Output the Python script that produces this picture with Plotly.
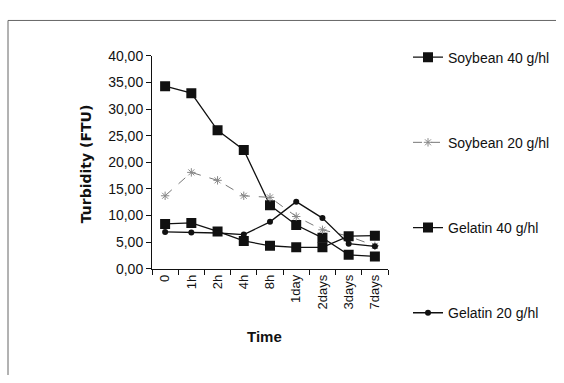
import plotly.graph_objects as go

categories = ["0", "1h", "2h", "4h", "8h", "1day", "2days", "3days", "7days"]
soy40 = [34.3, 33.0, 26.0, 22.3, 11.9, 8.2, 5.8, 2.6, 2.3]
soy20 = [13.7, 18.1, 16.6, 13.7, 13.4, 9.8, 7.3, 6.1, 4.3]
gel40 = [8.4, 8.6, 7.0, 5.2, 4.3, 4.0, 4.0, 6.1, 6.2]
gel20 = [6.9, 6.8, 6.7, 6.4, 8.8, 12.6, 9.5, 4.7, 4.2]
y_ticks = [0, 5, 10, 15, 20, 25, 30, 35, 40]
y_ticktext = ["0,00", "5,00", "10,00", "15,00", "20,00", "25,00", "30,00", "35,00", "40,00"]

W, H = 564, 383
def px(x):
    return x / W
def py(y):
    return 1 - y / H

fig = go.Figure()
fig.add_trace(go.Scatter(x=categories, y=soy40, name="Soybean 40 g/hl", mode="lines+markers",
                         line=dict(color="#111", width=1.3),
                         marker=dict(symbol="square", size=10, color="#111"), legendgroup="a"))
fig.add_trace(go.Scatter(x=categories, y=soy20, name="Soybean 20 g/hl", mode="lines+markers",
                         line=dict(color="#777", width=1, dash="dash"),
                         marker=dict(symbol="asterisk-open", size=7, color="#888", line=dict(width=1, color="#888")), legendgroup="b"))
fig.add_trace(go.Scatter(x=categories, y=gel40, name="Gelatin 40 g/hl", mode="lines+markers",
                         line=dict(color="#111", width=1.3),
                         marker=dict(symbol="square", size=10, color="#111"), legendgroup="c"))
fig.add_trace(go.Scatter(x=categories, y=gel20, name="Gelatin 20 g/hl", mode="lines+markers",
                         line=dict(color="#111", width=1.3),
                         marker=dict(symbol="circle", size=6, color="#111"), legendgroup="d"))

fig.update_layout(
    width=W, height=H,
    margin=dict(l=0, r=0, t=0, b=0),
    paper_bgcolor="white", plot_bgcolor="white",
    font=dict(family="Arial, Liberation Sans, sans-serif", size=12, color="#111"),
    xaxis=dict(domain=[px(152), px(388)], type="category", range=[-0.5, 8.5],
               showline=True, linecolor="#111", linewidth=1, ticks="outside", ticklen=5,
               tickson="boundaries", tickcolor="#111", tickangle=-90, showgrid=False,
               tickfont=dict(size=13), zeroline=False),
    yaxis=dict(domain=[py(272), py(50)], range=[0, 40], tickvals=y_ticks, ticktext=y_ticktext,
               showline=True, linecolor="#111", linewidth=1, ticks="outside", ticklen=5,
               tickcolor="#111", showgrid=False, zeroline=False, tickfont=dict(size=14)),
    legend=dict(x=px(408), y=py(35), xanchor="left", yanchor="top", tracegroupgap=64,
                font=dict(size=14), itemwidth=30, bgcolor="rgba(0,0,0,0)"),
    showlegend=True,
)

fig.add_annotation(text="<b>Time</b>", x=px(264), y=py(343), xref="paper", yref="paper",
                   xanchor="center", yanchor="middle",
                   showarrow=False, font=dict(size=15, family="Liberation Sans Narrow, Arial Narrow, Arial"))
fig.add_annotation(text="<b>Turbidity (FTU)</b>", x=px(86), y=py(163), xref="paper", yref="paper",
                   xanchor="center", yanchor="middle",
                   showarrow=False, textangle=-90, font=dict(size=14, family="DejaVu Sans"))

fig.add_shape(type="line", xref="paper", yref="paper", x0=px(8), x1=px(556), y0=py(13), y1=py(13),
              line=dict(color="#666", width=1))
fig.add_shape(type="line", xref="paper", yref="paper", x0=px(8), x1=px(8), y0=py(13), y1=py(383),
              line=dict(color="#666", width=1))

fig.write_html("out.html")
